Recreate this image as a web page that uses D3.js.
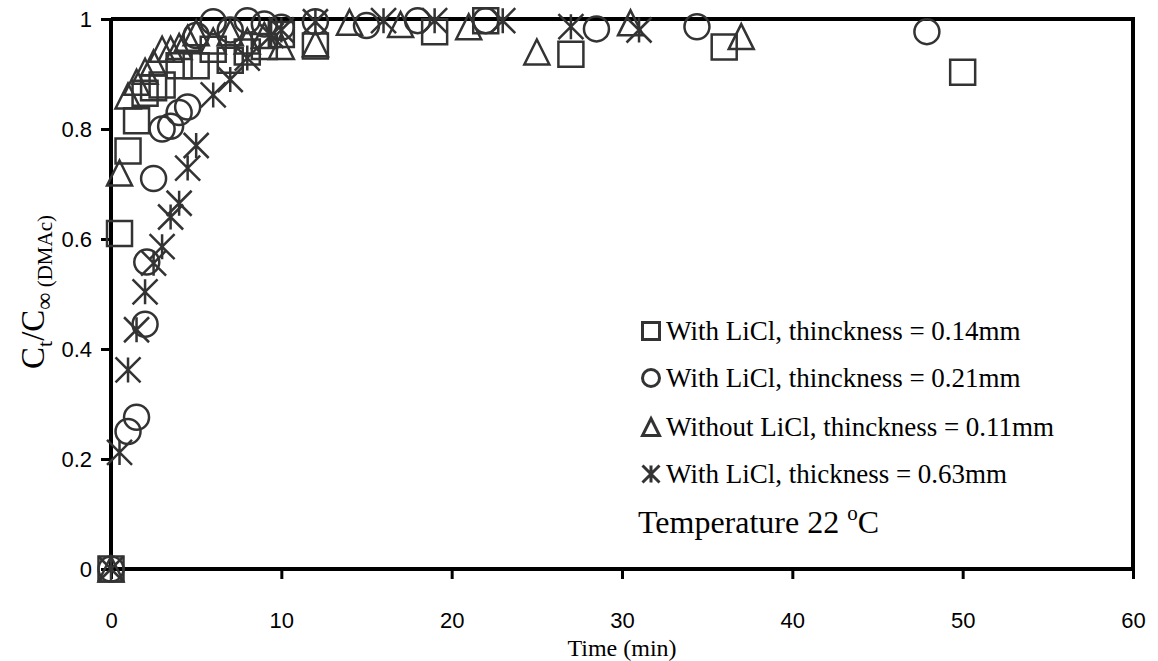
<html>
<head>
  <style>
	body { margin: 0; background: #fff; }
	.tick-lbl { font-family: "Liberation Sans", Arial, sans-serif; font-size: 22px; fill: #000; }
	.serif { font-family: "Liberation Serif", "Times New Roman", serif; fill: #000; }
	.mark { fill: none; stroke: #333; stroke-width: 2.5px; }
  </style>
</head>
<body>
<div id="chart"></div>
<script src="https://cdnjs.cloudflare.com/ajax/libs/d3/7.8.5/d3.min.js"></script>
<script>
  var xTicks = [0, 10, 20, 30, 40, 50, 60];
  var yTicks = [0, 0.2, 0.4, 0.6, 0.8, 1];

  // [time (min), Ct/Cinf]
  var sq014 = [[0,0],[0.5,0.61],[1,0.76],[1.5,0.815],[2,0.865],[2.5,0.875],[3,0.88],[4,0.915],[5,0.915],
               [6,0.945],[7,0.925],[8,0.94],[9,0.95],[10,0.972],[12,0.951],[19,0.977],[22,0.997],
               [27,0.936],[36,0.949],[50,0.903]];
  var ci021 = [[0,0],[1,0.25],[1.5,0.276],[2,0.445],[2.1,0.558],[2.5,0.71],[3,0.80],[3.5,0.805],[4,0.83],
               [4.5,0.84],[5,0.97],[6,0.995],[7,0.98],[8,0.997],[9,0.991],[10,0.985],[12,0.995],[15,0.988],
               [18,0.997],[22,0.997],[28.5,0.982],[34.4,0.986],[47.9,0.977]];
  var tr011 = [[0,0],[0.5,0.72],[1,0.86],[1.5,0.885],[2,0.905],[2.5,0.92],[3,0.945],[3.5,0.945],[4,0.95],
               [4.5,0.965],[5,0.975],[6,0.96],[7,0.975],[8,0.96],[9,0.97],[10,0.95],[12,0.955],[14,0.994],
               [17,0.99],[21,0.986],[25,0.94],[30.5,0.993],[37,0.968]];
  var st063 = [[0,0],[0.5,0.212],[1,0.362],[1.5,0.435],[2,0.504],[2.5,0.556],[3,0.586],[3.5,0.64],[4,0.665],
               [4.5,0.729],[5,0.77],[6,0.862],[7,0.89],[8,0.929],[9.4,0.97],[10,0.98],[12,0.995],[16,0.997],
               [19,0.997],[23,0.997],[27,0.986],[31,0.98]];

  var seriesNames = ['With LiCl, thinckness = 0.14mm', 'With LiCl, thinckness = 0.21mm',
                     'Without LiCl, thinckness = 0.11mm', 'With LiCl, thickness = 0.63mm'];
  var seriesShapes = ['square', 'circle', 'triangle', 'star'];
  var seriesData = [sq014, ci021, tr011, st063];

  (function () {
    var width = 1158, height = 661,
        pl = 111, pr = 1133, pt = 19, pb = 569;

    var x = d3.scaleLinear().domain([0, 60]).range([pl, pr]);
    var y = d3.scaleLinear().domain([0, 1]).range([pb, pt]);

    var svg = d3.select('#chart').append('svg')
      .attr('width', width)
      .attr('height', height);

    function shape(type, r) {
      if (type === 'square') return 'M' + (-r) + ',' + (-r) + 'H' + r + 'V' + r + 'H' + (-r) + 'Z';
      if (type === 'circle') return 'M' + r + ',0A' + r + ',' + r + ' 0 1,1 ' + (-r) + ',0A' + r + ',' + r + ' 0 1,1 ' + r + ',0Z';
      if (type === 'triangle') return 'M0,' + (-r) + 'L' + r + ',' + r + 'H' + (-r) + 'Z';
      // star: X plus vertical bar
      return 'M' + (-r) + ',' + (-r) + 'L' + r + ',' + r + 'M' + (-r) + ',' + r + 'L' + r + ',' + (-r) + 'M0,' + (-r) + 'V' + r;
    }

    // frame (top and right)
    svg.append('path')
      .attr('d', 'M' + pl + ',' + pt + 'H' + pr + 'V' + pb)
      .attr('fill', 'none')
      .attr('stroke', '#000')
      .attr('stroke-width', 4);

    // x axis
    var xAxis = svg.append('g')
      .attr('transform', 'translate(0,' + pb + ')')
      .call(d3.axisBottom(x).tickValues(xTicks).tickSize(10).tickFormat(d3.format('d')));
    xAxis.select('.domain').attr('stroke-width', 4).attr('d', 'M' + pl + ',0H' + pr);
    xAxis.selectAll('.tick line').attr('stroke-width', 3);
    xAxis.selectAll('.tick text').attr('class', 'tick-lbl').attr('dy', null).attr('y', 59);

    // y axis
    var yAxis = svg.append('g')
      .attr('transform', 'translate(' + pl + ',0)')
      .call(d3.axisLeft(y).tickValues(yTicks).tickSize(10)
        .tickFormat(function (d) { return d === 0 || d === 1 ? d : d3.format('.1f')(d); }));
    yAxis.select('.domain').attr('stroke-width', 4).attr('d', 'M0,' + pb + 'V' + pt);
    yAxis.selectAll('.tick line').attr('stroke-width', 3);
    yAxis.selectAll('.tick text').attr('class', 'tick-lbl').attr('x', -19);

    // axis titles
    svg.append('text')
      .attr('class', 'serif')
      .attr('x', (pl + pr) / 2)
      .attr('y', 656)
      .attr('text-anchor', 'middle')
      .style('font-size', '24px')
      .text('Time (min)');

    var yt = svg.append('text')
      .attr('class', 'serif')
      .attr('transform', 'translate(44,292) rotate(-90)')
      .attr('text-anchor', 'middle')
      .style('font-size', '33px');
    yt.append('tspan').text('C');
    yt.append('tspan').text('t').attr('dy', 8).style('font-size', '22px');
    yt.append('tspan').text('/C').attr('dy', -8);
    yt.append('tspan').text('\u221e').attr('dy', 8).style('font-size', '24px');
    yt.append('tspan').text(' (DMAc)').style('font-size', '21px');

    // data markers
    seriesData.forEach(function (data, i) {
      svg.append('g').selectAll('path')
        .data(data)
        .enter().append('path')
        .attr('class', 'mark')
        .attr('transform', function (d) { return 'translate(' + x(d[0]) + ',' + y(d[1]) + ')'; })
        .attr('d', shape(seriesShapes[i], 12.5));
    });

    // legend
    var legY = [331, 378, 427, 474];
    var leg = svg.append('g');
    seriesNames.forEach(function (name, i) {
      leg.append('path')
        .attr('class', 'mark')
        .attr('transform', 'translate(651,' + legY[i] + ')')
        .attr('d', shape(seriesShapes[i], 8.5))
        .style('stroke-width', 3);
      leg.append('text')
        .attr('class', 'serif')
        .attr('x', 666)
        .attr('y', legY[i] + 9)
        .style('font-size', '27px')
        .text(name);
    });

    var temp = svg.append('text')
      .attr('class', 'serif')
      .attr('x', 638)
      .attr('y', 533)
      .style('font-size', '32px');
    temp.append('tspan').text('Temperature 22 ');
    temp.append('tspan').text('o').attr('dy', -13).style('font-size', '21px');
    temp.append('tspan').text('C').attr('dy', 13);
  })();
</script>
</body>
</html>
